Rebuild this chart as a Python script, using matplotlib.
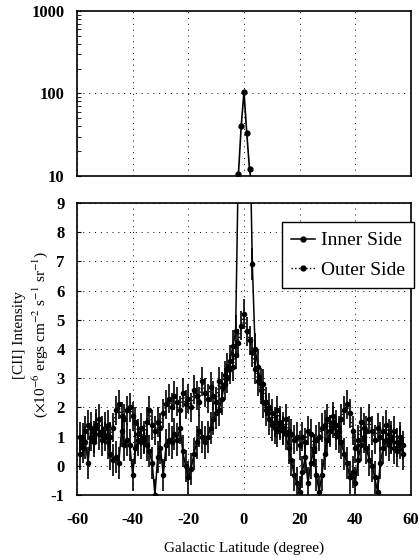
import numpy as np
import matplotlib
matplotlib.use('Agg')
import matplotlib.pyplot as plt
from matplotlib.lines import Line2D

plt.rcParams['font.family'] = ['Liberation Serif', 'DejaVu Serif']
plt.rcParams['mathtext.fontset'] = 'stix'
plt.rcParams['axes.unicode_minus'] = False

# galactic latitude (degree), one point per degree
lat = list(range(-59, 58))

inner = [0.4, 0.9, 0.8, 0.1, 1.3, 1.0, 1.4, 1.1, 0.9, 1.3,
         0.8, 0.4, 0.2, 0.3, 0.1, 1.2, 0.7, 0.9, 0.7, -0.3,
         0.6, 0.9, 0.8, 1.0, 0.7, 0.5, 0.1, -1.0, 0.3, 0.6,
         -0.3, 0.7, 0.9, 0.8, 1.1, 0.9, 1.3, 0.5, 0.0, -0.4,
         -0.1, 0.4, 0.8, 1.2, 1.0, 0.8, 1.0, 1.3, 1.6, 1.8,
         1.9, 2.3, 2.8, 3.3, 3.6, 4.1, 4.6, 10.5, 40.0, 105.0,
         33.0, 12.0, 6.9, 4.0, 3.4, 2.8, 2.2, 1.9, 1.6, 1.4,
         1.3, 1.2, 1.5, 1.3, 1.1, 0.6, 0.2, -0.3, -0.6, -0.9,
         -0.2, 0.3, -0.6, 0.1, 0.5, -0.3, -0.9, -0.3, 0.4, 0.9,
         1.2, 1.5, 1.1, 1.0, 0.8, 0.4, 0.1, -0.4, -0.2, -0.6,
         0.2, 0.7, 1.0, 0.6, 0.2, 0.0, -0.4, -0.9, 0.1, 0.6,
         0.9, 0.7, 1.0, 0.6, 0.5, 0.8, 0.4]

outer = [1.0, 0.6, 1.2, 1.4, 1.0, 0.8, 1.3, 1.6, 1.2, 1.0,
         1.4, 1.0, 1.3, 1.9, 2.1, 1.7, 1.6, 1.9, 2.0, 1.7,
         1.5, 1.1, 1.3, 0.9, 1.5, 1.9, 1.4, 1.2, 1.5, 1.3,
         1.8, 2.1, 2.3, 2.0, 2.4, 2.2, 1.9, 2.5, 2.1, 2.3,
         2.0, 2.6, 2.4, 2.2, 2.9, 2.5, 2.3, 2.7, 2.4, 2.2,
         2.9, 2.7, 3.1, 3.0, 3.3, 3.4, 3.8, 4.2, 4.8, 5.2,
         4.6, 4.3, 3.9, 3.3, 2.9, 2.6, 2.8, 2.2, 2.0, 1.8,
         1.5, 1.9, 1.4, 1.2, 1.6, 1.2, 1.1, 0.9, 1.0, 0.7,
         1.0, 0.8, 1.2, 1.1, 0.6, 0.9, 1.0, 1.3, 1.4, 1.6,
         1.2, 1.7, 1.4, 1.2, 1.6, 1.9, 2.1, 1.8, 1.2, 0.6,
         0.9, 1.5, 1.3, 1.2, 1.6, 1.2, 0.9, 1.3, 1.0, 1.2,
         1.4, 1.1, 0.9, 1.2, 0.8, 1.0, 0.7]

err_inner = 0.55
err_outer = 0.5

xticks = [-60, -40, -20, 0, 20, 40, 60]
yticks_log = [10, 100, 1000]
yticks_lin = list(range(-1, 10))

fig = plt.figure(figsize=(4.19, 5.58), dpi=100)
ax1 = fig.add_axes([0.1838, 0.6846, 0.797, 0.2957])
ax2 = fig.add_axes([0.1838, 0.1129, 0.797, 0.5233])

grid_kw = dict(color='black', linestyle=(0, (1, 5)), linewidth=0.7)

# top panel: log scale peak
ax1.plot(lat, inner, '-', color='black', lw=1.2, marker='o', ms=3.5)
ax1.set_yscale('log')
ax1.set_ylim(10, 1000)
ax1.set_xlim(-60, 60)
ax1.set_xticks(xticks)
ax1.set_xticklabels([])
ax1.set_yticks(yticks_log)
ax1.set_yticklabels([str(v) for v in yticks_log], fontweight='bold', fontsize=12)
ax1.xaxis.grid(True, **grid_kw)
ax1.axhline(100, **grid_kw)
ax1.tick_params(axis='both', which='both', direction='in', length=3, pad=9)
ax1.tick_params(axis='x', length=0)

# bottom panel
ax2.errorbar(lat, inner, yerr=err_inner, fmt='-', color='black', lw=1.1,
             marker='o', ms=3, elinewidth=1.2, capsize=0)
ax2.errorbar(lat, outer, yerr=err_outer, fmt=':', color='black', lw=1.0,
             marker='o', ms=3, elinewidth=1.2, capsize=0)
ax2.set_xlim(-60, 60)
ax2.set_ylim(-1, 9)
ax2.set_xticks(xticks)
ax2.set_xticklabels([str(v) for v in xticks], fontweight='bold', fontsize=12)
ax2.set_yticks(yticks_lin)
ax2.set_yticklabels([str(v) for v in yticks_lin], fontweight='bold', fontsize=12)
ax2.grid(True, **grid_kw)
ax2.tick_params(axis='y', direction='in', length=3, pad=9)
ax2.tick_params(axis='x', length=0, pad=12)

for ax in (ax1, ax2):
    for s in ax.spines.values():
        s.set_linewidth(1.2)

handles = [Line2D([], [], color='black', ls='-', lw=1.1, marker='o', ms=3.5),
           Line2D([], [], color='black', ls=':', lw=1.0, marker='o', ms=3.5)]
leg = ax2.legend(handles, ['Inner Side', 'Outer Side'], loc='upper right',
                 bbox_to_anchor=(1.01, 0.935), fontsize=14,
                 frameon=True, fancybox=False, edgecolor='black', framealpha=1,
                 handlelength=1.2, handletextpad=0.3, borderpad=0.5,
                 labelspacing=0.6, borderaxespad=0)
leg.get_frame().set_linewidth(1.0)

ax2.set_xlabel('Galactic Latitude (degree)', fontsize=11, labelpad=10)
fig.text(0.075, 0.40,
         '[CII] Intensity\n' r'($\times$10$^{-6}$ ergs cm$^{-2}$ s$^{-1}$ sr$^{-1}$)',
         rotation=90, ha='center', va='center', fontsize=11, linespacing=1.3)

fig.savefig('out.png', dpi=100)
